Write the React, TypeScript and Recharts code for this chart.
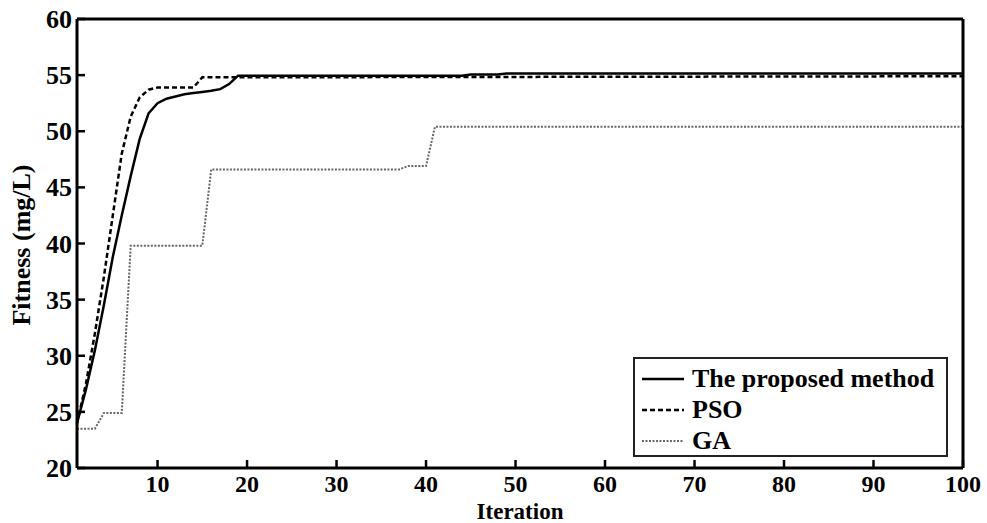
import React from 'react';
import { LineChart, Line, XAxis, YAxis } from 'recharts';

// proposed method (solid)
const propIter = [1, 2, 3, 4, 5, 6, 7, 8, 9, 10, 11, 12, 13, 14, 15, 16, 17, 18, 19, 44, 45, 48, 49, 100];
const propFit = [24, 27, 30.5, 34.5, 38.8, 42.5, 46, 49.3, 51.6, 52.5, 52.9, 53.1, 53.3, 53.4, 53.5, 53.6, 53.75, 54.2, 54.95, 54.95, 55.05, 55.05, 55.15, 55.15];

// PSO (dashed)
const psoIter = [1, 2, 3, 4, 5, 6, 7, 8, 9, 10, 14, 15, 100];
const psoFit = [24, 27.5, 32, 37, 42.5, 48, 51.3, 53, 53.7, 53.9, 53.9, 54.8, 54.9];

// GA (dotted)
const gaIter = [1, 3, 4, 6, 7, 15, 16, 37, 38, 40, 41, 100];
const gaFit = [23.5, 23.5, 24.9, 24.9, 39.8, 39.8, 46.6, 46.6, 46.9, 46.9, 50.4, 50.4];

const xTicks = [10, 20, 30, 40, 50, 60, 70, 80, 90, 100];
const yTicks = [20, 25, 30, 35, 40, 45, 50, 55, 60];

const toPoints = (xs: number[], ys: number[]) => xs.map((x, i) => ({ x, y: ys[i] }));

const proposed = toPoints(propIter, propFit);
const pso = toPoints(psoIter, psoFit);
const ga = toPoints(gaIter, gaFit);

const FONT = "'Liberation Serif', 'Times New Roman', serif";
const TICK = 8;

const BottomTick = (p: any) => (
  <g>
    <line x1={p.x} y1={p.y} x2={p.x} y2={p.y - TICK} stroke="#000" strokeWidth={2.5} />
    <text x={p.x} y={p.y + 24} textAnchor="middle" fontFamily={FONT} fontWeight="bold" fontSize={24} fill="#000">
      {p.payload.value}
    </text>
  </g>
);

const LeftTick = (p: any) => (
  <g>
    <line x1={p.x} y1={p.y} x2={p.x + TICK} y2={p.y} stroke="#000" strokeWidth={2.5} />
    <text x={p.x - 5} y={p.y + 9} textAnchor="end" fontFamily={FONT} fontWeight="bold" fontSize={26} fill="#000">
      {p.payload.value}
    </text>
  </g>
);

const TopTick = (p: any) => (
  <line x1={p.x} y1={p.y} x2={p.x} y2={p.y + TICK} stroke="#000" strokeWidth={2.5} />
);

const RightTick = (p: any) => (
  <line x1={p.x} y1={p.y} x2={p.x - TICK} y2={p.y} stroke="#000" strokeWidth={2.5} />
);

const axisLine = { stroke: '#000', strokeWidth: 3 };

const legendItems = [
  { name: 'The proposed method', dash: undefined, color: '#000', width: 2.5 },
  { name: 'PSO', dash: '5 3', color: '#000', width: 2.5 },
  { name: 'GA', dash: '2 1.5', color: '#666', width: 2 },
];

export default function App() {
  return (
    <div style={{ position: 'absolute', left: 0, top: 0, width: 987, height: 523, background: '#fff', overflow: 'hidden' }}>
      <LineChart width={987} height={523} margin={{ top: 0, right: 0, bottom: 0, left: 0 }}>
        <XAxis
          xAxisId={0}
          type="number"
          dataKey="x"
          domain={[1, 100]}
          ticks={xTicks}
          height={55}
          tickSize={0}
          tickMargin={0}
          tickLine={false}
          axisLine={axisLine}
          tick={BottomTick}
          interval={0}
        />
        <XAxis
          xAxisId="top"
          orientation="top"
          type="number"
          dataKey="x"
          domain={[1, 100]}
          ticks={xTicks}
          height={19}
          tickSize={0}
          tickMargin={0}
          tickLine={false}
          axisLine={axisLine}
          tick={TopTick}
          interval={0}
        />
        <YAxis
          yAxisId={0}
          type="number"
          domain={[20, 60]}
          ticks={yTicks}
          width={77}
          tickSize={0}
          tickMargin={0}
          tickLine={false}
          axisLine={axisLine}
          tick={LeftTick}
          interval={0}
        />
        <YAxis
          yAxisId="right"
          orientation="right"
          type="number"
          domain={[20, 60]}
          ticks={yTicks}
          width={24}
          tickSize={0}
          tickMargin={0}
          tickLine={false}
          axisLine={axisLine}
          tick={RightTick}
          interval={0}
        />
        <Line data={ga} dataKey="y" type="linear" stroke="#666" strokeWidth={2} strokeDasharray="2 1.5" dot={false} isAnimationActive={false} />
        <Line data={proposed} dataKey="y" type="linear" stroke="#000" strokeWidth={2.5} dot={false} isAnimationActive={false} />
        <Line data={pso} dataKey="y" type="linear" stroke="#000" strokeWidth={2.5} strokeDasharray="5 3" dot={false} isAnimationActive={false} />
      </LineChart>

      <div
        style={{
          position: 'absolute', left: 22, top: 245, transform: 'translate(-50%, -50%) rotate(-90deg)',
          fontFamily: FONT, fontWeight: 'bold', fontSize: 26, whiteSpace: 'nowrap', lineHeight: 1,
        }}
      >
        Fitness (mg/L)
      </div>
      <div
        style={{
          position: 'absolute', left: 520, top: 511, transform: 'translate(-50%, -50%)',
          fontFamily: FONT, fontWeight: 'bold', fontSize: 23, whiteSpace: 'nowrap', lineHeight: 1,
        }}
      >
        Iteration
      </div>

      <div
        style={{
          position: 'absolute', left: 633, top: 357, width: 315, height: 100, boxSizing: 'border-box',
          border: '2px solid #222', background: '#fff', paddingTop: 4,
        }}
      >
        {legendItems.map((it) => (
          <div key={it.name} style={{ display: 'flex', alignItems: 'center', height: 31 }}>
            <svg width={52} height={10} style={{ marginLeft: 5 }}>
              <line x1={2} y1={5} x2={44} y2={5} stroke={it.color} strokeWidth={it.width} strokeDasharray={it.dash} />
            </svg>
            <span style={{ fontFamily: FONT, fontWeight: 'bold', fontSize: 26, lineHeight: 1 }}>{it.name}</span>
          </div>
        ))}
      </div>
    </div>
  );
}
